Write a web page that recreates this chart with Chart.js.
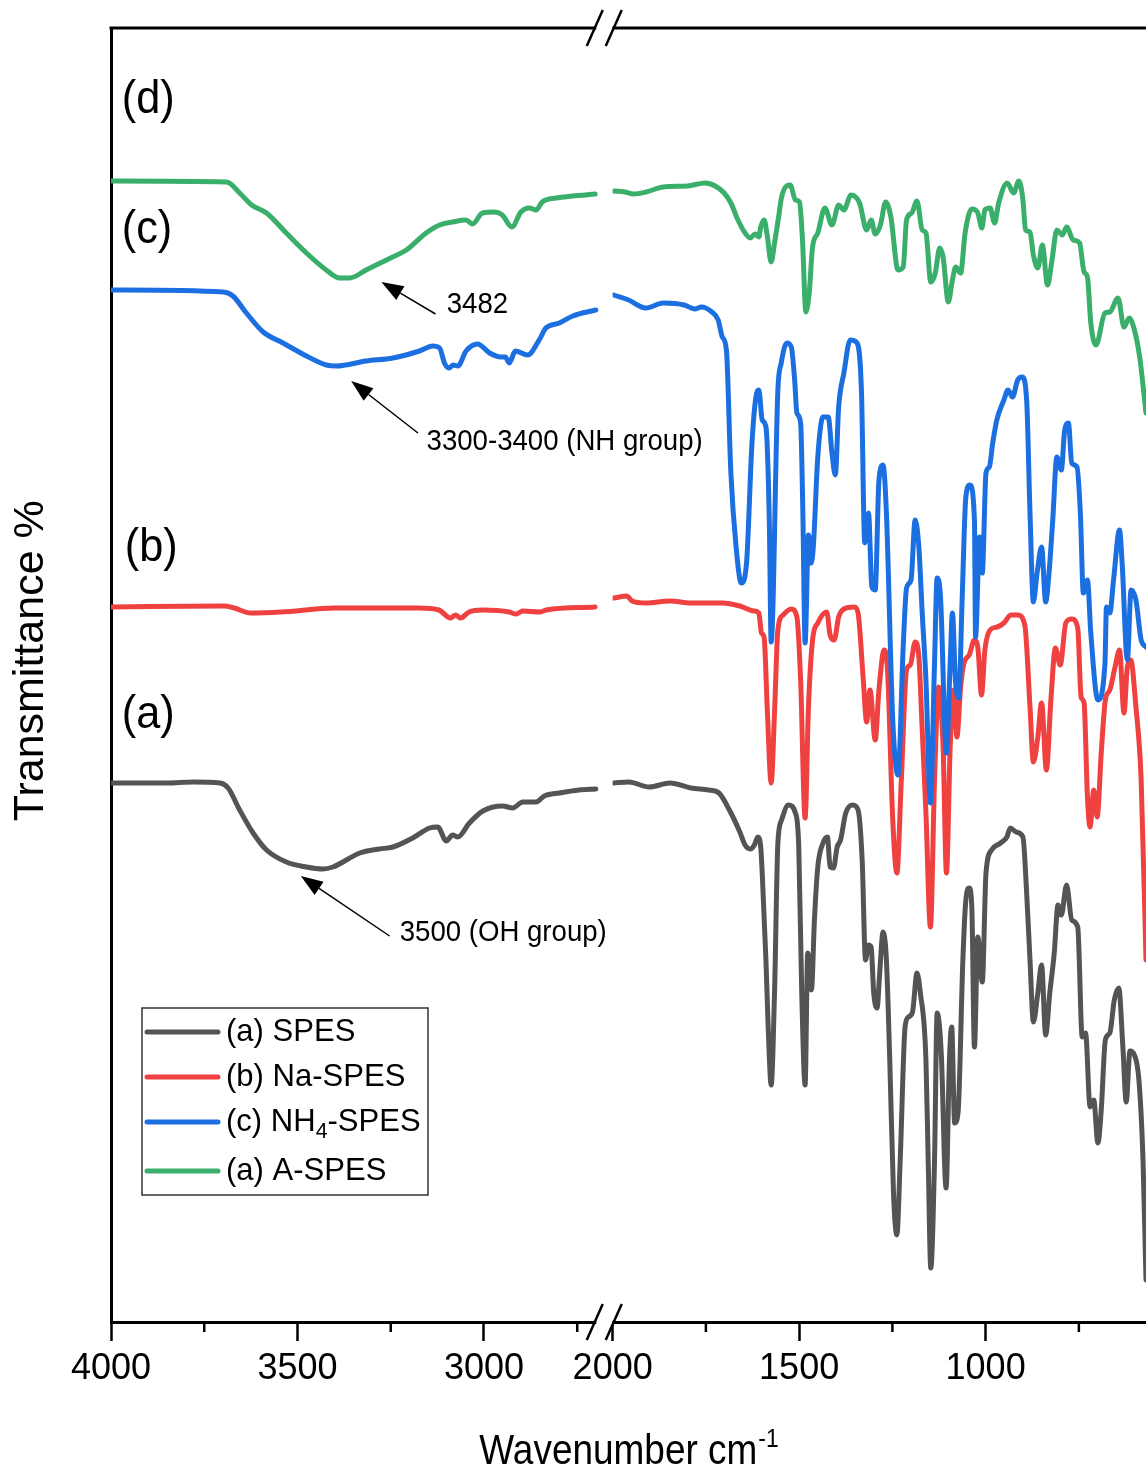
<!DOCTYPE html>
<html>
<head>
<meta charset="utf-8">
<script src="https://cdn.jsdelivr.net/npm/chart.js@4.4.1/dist/chart.umd.min.js"></script>
<style>
html,body{margin:0;padding:0;background:#fff;overflow:hidden}
#wrap{width:1146px;height:1466px;position:relative}
</style>
</head>
<body>
<div id="wrap"><canvas id="c"></canvas></div>
<script>
// ---------------- DATA (wavenumber cm-1, transmittance in arbitrary offset units) ----------------
const wnSPES = [3998,3851,3780,3708,3686,3655,3619,3583,3530,3476,3432,3405,3333,3280,3244,3191,3146,3124,3101,3084,3070,3039,3003,2950,2923,2896,2860,2838,2798,2745,2700,
1997,1957,1902,1846,1790,1743,1715,1687,1659,1645,1631,1620,1611,1603,1599,1589,1583,1575,1566,1557,1547,1529,1510,1501,1493,1484,1477,1467,1459,1450,1436,1424,1417,1408,1398,1389,1375,1356,1342,1331,1322,1314,1307,1300,1291,1284,1275,1266,1257,1247,1238,1229,1216,1207,1196,1184,1175,1160,1154,1147,1137,1130,1119,1106,1097,1091,1083,1074,1061,1053,1044,1037,1030,1021,1009,999,984,960,943,934,918,900,890,881,872,860,850,839,828,816,806,797,783,769,753,741,732,720,710,699,690,679,667,655,643,632,623,613,601,589,578,570];
const tSPES = [53.9,53.9,54.0,53.9,53.4,51.2,48.9,47.2,46.0,45.5,45.3,45.5,46.9,47.3,47.5,48.4,49.4,49.5,48.1,48.7,48.5,49.9,51.1,51.6,51.4,52.0,52.0,52.6,52.9,53.2,53.3,
53.9,54.0,53.5,53.9,53.4,53.2,52.9,51.2,49.0,47.7,47.3,47.7,48.5,47.5,44.9,36.2,29.5,23.7,32.9,47.9,50.2,51.7,50.9,47.5,32.9,23.7,36.9,33.2,40.2,45.5,47.9,48.5,45.5,45.4,47.5,48.2,50.9,51.7,51.2,46.2,36.2,37.7,37.5,32.9,31.4,34.9,39.0,36.2,26.2,12.9,8.7,16.2,29.5,30.5,31.0,34.9,32.9,26.2,16.2,5.4,16.2,30.9,26.9,13.4,26.2,29.5,19.9,20.9,36.2,42.2,43.4,41.5,27.5,38.5,34.0,44.9,47.2,47.9,48.5,49.4,49.0,48.5,42.9,36.2,30.0,32.9,35.7,28.7,32.9,36.9,41.7,40.7,43.7,40.2,39.5,28.5,28.9,21.5,22.2,17.9,21.2,28.2,28.9,32.2,33.4,27.5,22.0,27.1,26.7,24.2,16.2,4.2];

const wnNa = [3998,3697,3670,3625,3544,3400,3175,3121,3090,3076,3063,3040,3004,2932,2914,2896,2851,2833,2702,
1997,1962,1948,1911,1846,1790,1706,1659,1622,1608,1601,1594,1585,1575,1566,1557,1543,1521,1506,1496,1484,1475,1464,1450,1426,1417,1406,1394,1380,1352,1342,1328,1319,1310,1296,1286,1272,1263,1249,1238,1226,1212,1202,1189,1179,1170,1160,1148,1137,1126,1114,1105,1095,1086,1077,1067,1058,1044,1030,1021,1011,1002,988,969,951,932,914,895,881,872,860,850,837,825,813,800,785,769,753,744,736,727,720,710,701,690,679,667,653,641,629,620,611,597,583,570];
const tNa = [71.5,71.6,71.4,70.9,71.0,71.4,71.4,71.2,70.4,70.7,70.4,71.0,71.2,71.0,70.8,71.1,71.0,71.2,71.5,
72.4,72.6,72.1,71.9,72.1,71.9,71.9,71.6,71.1,70.9,68.9,68.5,60.9,53.9,60.9,69.2,70.7,71.3,70.5,64.2,50.4,61.5,68.2,69.9,71.0,68.7,68.2,70.5,71.3,71.5,70.9,64.2,60.0,63.2,58.2,63.2,67.2,65.2,50.2,44.9,54.2,65.2,65.7,68.0,66.5,59.2,50.9,39.5,54.2,63.5,57.5,44.9,57.5,63.2,58.5,63.5,65.9,66.7,68.2,67.5,62.7,67.2,69.2,69.5,69.9,70.7,70.7,69.7,61.5,56.0,58.5,61.9,55.2,62.2,67.4,65.7,69.9,70.3,69.4,62.5,61.9,52.5,49.5,53.2,50.5,56.9,62.2,63.2,65.5,67.2,60.9,65.5,66.2,61.5,54.2,36.2];

const wnNH4 = [3998,3699,3673,3637,3592,3539,3476,3423,3396,3316,3244,3173,3137,3119,3106,3094,3082,3070,3048,3017,2985,2954,2943,2932,2916,2883,2852,2834,2798,2762,2700,
1997,1957,1911,1864,1808,1780,1762,1734,1717,1706,1695,1683,1669,1655,1641,1627,1617,1608,1599,1589,1580,1575,1557,1548,1533,1521,1512,1506,1496,1490,1484,1475,1468,1462,1450,1436,1422,1412,1403,1394,1380,1363,1347,1333,1324,1314,1305,1296,1286,1275,1266,1249,1235,1221,1212,1200,1189,1179,1170,1160,1148,1137,1130,1121,1105,1095,1089,1081,1072,1063,1053,1042,1030,1027,1016,1009,999,990,981,970,951,940,928,914,902,890,881,872,862,850,839,830,820,809,797,788,778,769,755,746,738,727,718,699,680,676,667,657,641,634,620,610,597,583,570];
const tNH4 = [103.2,103.0,102.6,100.9,99.0,97.9,96.6,95.7,95.6,96.1,96.4,97.1,97.6,97.4,95.9,95.4,95.7,95.6,97.1,97.8,96.9,96.5,96.5,95.9,97.1,96.7,98.2,99.4,99.9,100.6,101.2,
102.7,102.2,101.4,101.9,101.7,101.3,101.5,101.0,100.2,98.5,97.2,84.9,77.5,73.9,75.9,87.5,92.2,93.2,90.2,89.5,80.2,68.0,93.2,95.9,97.9,97.5,94.2,90.9,89.9,80.9,67.9,78.7,75.9,77.5,86.5,90.5,90.5,86.9,84.7,91.5,94.9,98.2,98.0,93.2,77.9,80.9,73.5,73.2,84.2,85.7,80.9,60.2,54.7,67.5,73.4,74.2,80.2,77.5,70.9,64.2,51.9,65.9,74.4,72.5,56.9,65.9,70.9,64.2,62.4,72.2,82.5,83.7,80.2,68.5,78.5,74.9,84.9,85.5,87.9,90.2,92.2,93.2,92.5,94.2,94.5,92.2,80.9,72.0,74.9,77.5,72.0,74.9,80.2,86.5,85.2,89.2,89.9,85.9,85.5,80.9,72.9,74.2,68.9,62.2,65.9,71.5,70.9,74.2,79.2,75.9,66.2,73.2,72.2,68.2,67.5];

const wnA = [3998,3690,3655,3623,3583,3530,3476,3423,3387,3360,3316,3245,3208,3155,3119,3084,3048,3031,3004,2972,2951,2925,2901,2878,2860,2844,2807,2763,2702,
1997,1967,1944,1911,1864,1799,1752,1725,1701,1683,1664,1645,1631,1618,1608,1603,1594,1585,1575,1566,1555,1547,1524,1510,1499,1491,1482,1473,1464,1450,1431,1412,1394,1380,1361,1338,1319,1307,1296,1282,1268,1254,1235,1221,1212,1198,1184,1170,1160,1147,1135,1123,1114,1100,1089,1080,1067,1055,1037,1021,1010,1002,988,976,965,942,925,911,900,893,881,872,860,848,834,822,809,794,783,765,748,736,727,718,704,680,667,645,629,615,601,587,570];
const tA = [114.1,114.0,112.9,111.7,110.9,108.9,106.9,105.2,104.4,104.4,105.2,106.5,107.2,108.9,109.7,110.0,110.2,109.8,110.9,111.0,110.7,109.5,111.0,111.4,111.2,112.0,112.4,112.6,112.8,
113.1,113.0,112.8,113.0,113.5,113.6,113.9,113.6,112.9,111.9,110.2,108.9,108.4,108.8,108.5,109.5,110.2,108.5,106.0,107.9,110.5,112.5,113.7,112.2,112.0,108.2,101.0,102.9,107.5,108.9,111.4,109.7,111.7,111.2,112.7,111.9,109.2,110.2,108.8,109.7,112.0,110.5,105.2,105.5,110.2,110.9,112.1,109.2,108.9,104.0,104.9,107.4,106.5,102.0,104.2,105.5,104.9,108.9,111.3,110.9,109.4,111.2,111.4,109.9,111.9,113.9,112.9,114.1,112.2,109.2,109.0,106.7,105.4,107.7,103.7,106.2,109.2,108.7,109.5,108.2,107.9,105.0,104.5,99.9,97.7,100.9,101.0,102.4,99.5,100.4,99.2,96.5,90.9];

const seriesLabels = ['(a) SPES', '(b) Na-SPES', '(c) NH4-SPES', '(a) A-SPES'];
const curveTags = ['(a)', '(b)', '(c)', '(d)'];
const xTickLabels = [4000, 3500, 3000, 2000, 1500, 1000];
const axisBreak = [2700, 2000]; // wavenumbers on both sides of the axis break
const leftRange = [2655, 4000];
const rightRange = [570, 2000];
const yRange = [0, 129.4];
const yTitle = 'Transmittance %';

// annotation anchors in data units: [wavenumber, transmittance]
const annotationTexts = ['3482', '3300-3400 (NH group)', '3500 (OH group)'];
const annotationTips = [[3275, 104.0], [3356, 94.1], [3491, 44.6]];
const annotationTails = [[3130, 100.8], [3177, 88.9], [3253, 38.6]];
const annotationLabelAt = [[3100, 101.7], [3154, 88.0], [3226, 38.9]];
const tagAt = [[3971, 60.7], [3963, 77.4], [3971, 109.2], [3971, 122.2]];

// ---------------- STYLE ----------------
const colors = ['#545454', '#F04141', '#1C6FE0', '#3AAE6B'];
const SANS = '"Liberation Sans", Arial, sans-serif';
function fontAvailable(name) {
  const c = document.createElement('canvas').getContext('2d');
  c.font = '40px monospace';
  const a = c.measureText('4000 Wavenumber').width;
  c.font = '40px "' + name + '", monospace';
  const b = c.measureText('4000 Wavenumber').width;
  return Math.abs(a - b) > 0.5;
}
const NARROW = fontAvailable('Liberation Sans Narrow');
const tickFont = NARROW ? {family: '"Liberation Sans Narrow"', size: 42} : {family: SANS, size: 36};

// ---------------- DATASETS ----------------
const seriesData = [[wnSPES, tSPES], [wnNa, tNa], [wnNH4, tNH4], [wnA, tA]];
const datasets = [];
seriesData.forEach(([wn, t], i) => {
  const pts = wn.map((w, j) => ({x: w, y: t[j]}));
  const common = {
    label: seriesLabels[i], borderColor: colors[i], backgroundColor: colors[i],
    borderWidth: 5, pointRadius: 0, fill: false, cubicInterpolationMode: 'monotone',
    borderCapStyle: 'round', borderJoinStyle: 'round', order: 4 - i
  };
  datasets.push(Object.assign({}, common, {data: pts.filter(p => p.x >= axisBreak[0]), xAxisID: 'xL', yAxisID: 'y'}));
  datasets.push(Object.assign({}, common, {data: pts.filter(p => p.x <= axisBreak[1]), xAxisID: 'xR', yAxisID: 'y'}));
});

function xScale(min, max, weight) {
  return {
    type: 'linear', position: 'bottom', reverse: true, min: min, max: max,
    stack: 'wn', stackWeight: weight,
    border: {display: true, color: '#000', width: 3},
    grid: {
      display: true, drawOnChartArea: false, drawTicks: true, tickLength: 19, tickWidth: 2.5,
      tickColor: (ctx) => (ctx.tick && xTickLabels.includes(ctx.tick.value)) ? '#000' : 'rgba(0,0,0,0)'
    },
    ticks: {
      stepSize: 250, includeBounds: false, autoSkip: false, maxRotation: 0, minRotation: 0,
      padding: 6, color: '#000', font: tickFont,
      callback: (v) => xTickLabels.includes(v) ? String(v) : ''
    },
    afterFit: (s) => { s.height = 144; }
  };
}

// squeezed text helper (the reference lettering is horizontally condensed)
function sqText(ctx, text, x, y, size, sx, align, baseline) {
  ctx.save();
  ctx.font = size + 'px ' + SANS;
  ctx.textAlign = align || 'left';
  ctx.textBaseline = baseline || 'middle';
  ctx.translate(x, y);
  ctx.scale(sx, 1);
  ctx.fillText(text, 0, 0);
  const w = ctx.measureText(text).width * sx;
  ctx.restore();
  return w;
}

const decor = {
  id: 'decor',
  afterDraw(chart) {
    const {ctx, chartArea: ca, scales} = chart;
    const xL = scales.xL, xR = scales.xR, y = scales.y;
    ctx.save();
    ctx.strokeStyle = '#000';
    ctx.fillStyle = '#000';
    // top frame line
    ctx.lineWidth = 3;
    ctx.beginPath(); ctx.moveTo(ca.left - 1.5, ca.top); ctx.lineTo(ca.right, ca.top); ctx.stroke();
    // minor ticks
    ctx.lineWidth = 2.5;
    [xL, xR].forEach(sc => sc.ticks.forEach(t => {
      if (!xTickLabels.includes(t.value)) {
        const px = sc.getPixelForValue(t.value);
        ctx.beginPath(); ctx.moveTo(px, ca.bottom); ctx.lineTo(px, ca.bottom + 10); ctx.stroke();
      }
    }));
    // axis break marks
    const bx = (xL.getPixelForValue(axisBreak[0]) + xR.getPixelForValue(axisBreak[1])) / 2;
    [ca.top, ca.bottom].forEach(yy => {
      ctx.fillStyle = '#fff';
      ctx.fillRect(bx - 8, yy - 2.5, 16, 5);
      ctx.lineWidth = 2.5;
      [-9.5, 9.5].forEach(dx => {
        ctx.beginPath(); ctx.moveTo(bx + dx - 8, yy + 18); ctx.lineTo(bx + dx + 8, yy - 18); ctx.stroke();
      });
    });
    ctx.fillStyle = '#000';
    // y axis title (rotated)
    ctx.save();
    ctx.font = '43px ' + SANS;
    ctx.textAlign = 'center'; ctx.textBaseline = 'middle';
    ctx.translate(31, y.getPixelForValue(yRange[1] * 0.511));
    ctx.rotate(-Math.PI / 2);
    ctx.fillText(yTitle, 0, 0);
    ctx.restore();
    // curve tags
    curveTags.forEach((tg, i) => {
      sqText(ctx, tg, xL.getPixelForValue(tagAt[i][0]), y.getPixelForValue(tagAt[i][1]), 46, 0.94, 'left', 'middle');
    });
    // annotations with arrows
    annotationTexts.forEach((txt, i) => {
      const tx = xL.getPixelForValue(annotationTips[i][0]), ty = y.getPixelForValue(annotationTips[i][1]);
      const sx = xL.getPixelForValue(annotationTails[i][0]), sy = y.getPixelForValue(annotationTails[i][1]);
      const ang = Math.atan2(ty - sy, tx - sx);
      const hl = 22, hw = 8;
      const bxp = tx - hl * Math.cos(ang), byp = ty - hl * Math.sin(ang);
      ctx.lineWidth = 1.5;
      ctx.beginPath(); ctx.moveTo(sx, sy); ctx.lineTo(bxp, byp); ctx.stroke();
      ctx.beginPath();
      ctx.moveTo(tx, ty);
      ctx.lineTo(bxp + hw * Math.sin(ang), byp - hw * Math.cos(ang));
      ctx.lineTo(bxp - hw * Math.sin(ang), byp + hw * Math.cos(ang));
      ctx.closePath(); ctx.fill();
      sqText(ctx, txt, xL.getPixelForValue(annotationLabelAt[i][0]), y.getPixelForValue(annotationLabelAt[i][1]), 30, 0.92, 'left', 'middle');
    });
    // x axis title with superscript
    const cx = (ca.left + ca.right) / 2;
    const base = ca.bottom + 142;
    const sxT = 0.88;
    ctx.font = '42px ' + SANS;
    const wMain = ctx.measureText('Wavenumber cm').width * sxT;
    ctx.font = '26px ' + SANS;
    const wSup = ctx.measureText('-1').width * sxT;
    const x0 = cx - (wMain + wSup) / 2;
    sqText(ctx, 'Wavenumber cm', x0, base, 42, sxT, 'left', 'alphabetic');
    sqText(ctx, '-1', x0 + wMain + 1, base - 17, 26, sxT, 'left', 'alphabetic');
    // legend
    const lx = ca.left + 31, ly = ca.bottom - 314, lw = 286, lh = 187;
    ctx.fillStyle = '#fff';
    ctx.fillRect(lx, ly, lw, lh);
    ctx.strokeStyle = '#333'; ctx.lineWidth = 1.5;
    ctx.strokeRect(lx, ly, lw, lh);
    const rows = [24, 69, 114, 163];
    seriesLabels.forEach((lab, i) => {
      const ry = ly + rows[i];
      ctx.strokeStyle = colors[i]; ctx.lineWidth = 5; ctx.lineCap = 'round';
      ctx.beginPath(); ctx.moveTo(lx + 5, ry); ctx.lineTo(lx + 76, ry); ctx.stroke();
      ctx.fillStyle = '#000';
      const m = lab.match(/^(.*NH)(4)(.*)$/);
      let tx = lx + 84;
      if (m) {
        tx += sqText(ctx, m[1], tx, ry, 32, 0.97, 'left', 'middle');
        tx += sqText(ctx, m[2], tx, ry + 10, 22, 0.97, 'left', 'middle');
        sqText(ctx, m[3], tx, ry, 32, 0.97, 'left', 'middle');
      } else {
        sqText(ctx, lab, tx, ry, 32, 0.97, 'left', 'middle');
      }
    });
    ctx.restore();
  }
};

new Chart(document.getElementById('c'), {
  type: 'line',
  data: {datasets: datasets},
  options: {
    responsive: true, maintainAspectRatio: false, animation: false, events: [],
    layout: {padding: {top: 28, left: 0, right: 0, bottom: 0}},
    plugins: {legend: {display: false}, tooltip: {enabled: false}},
    scales: {
      xL: xScale(leftRange[0], leftRange[1], leftRange[1] - leftRange[0]),
      xR: xScale(rightRange[0], rightRange[1], rightRange[1] - rightRange[0]),
      y: {
        type: 'linear', position: 'left', min: yRange[0], max: yRange[1],
        grid: {display: false}, ticks: {display: false},
        border: {display: true, color: '#000', width: 3},
        title: {display: false},
        afterFit: (s) => { s.width = 111; }
      }
    }
  },
  plugins: [decor]
});
</script>
</body>
</html>
